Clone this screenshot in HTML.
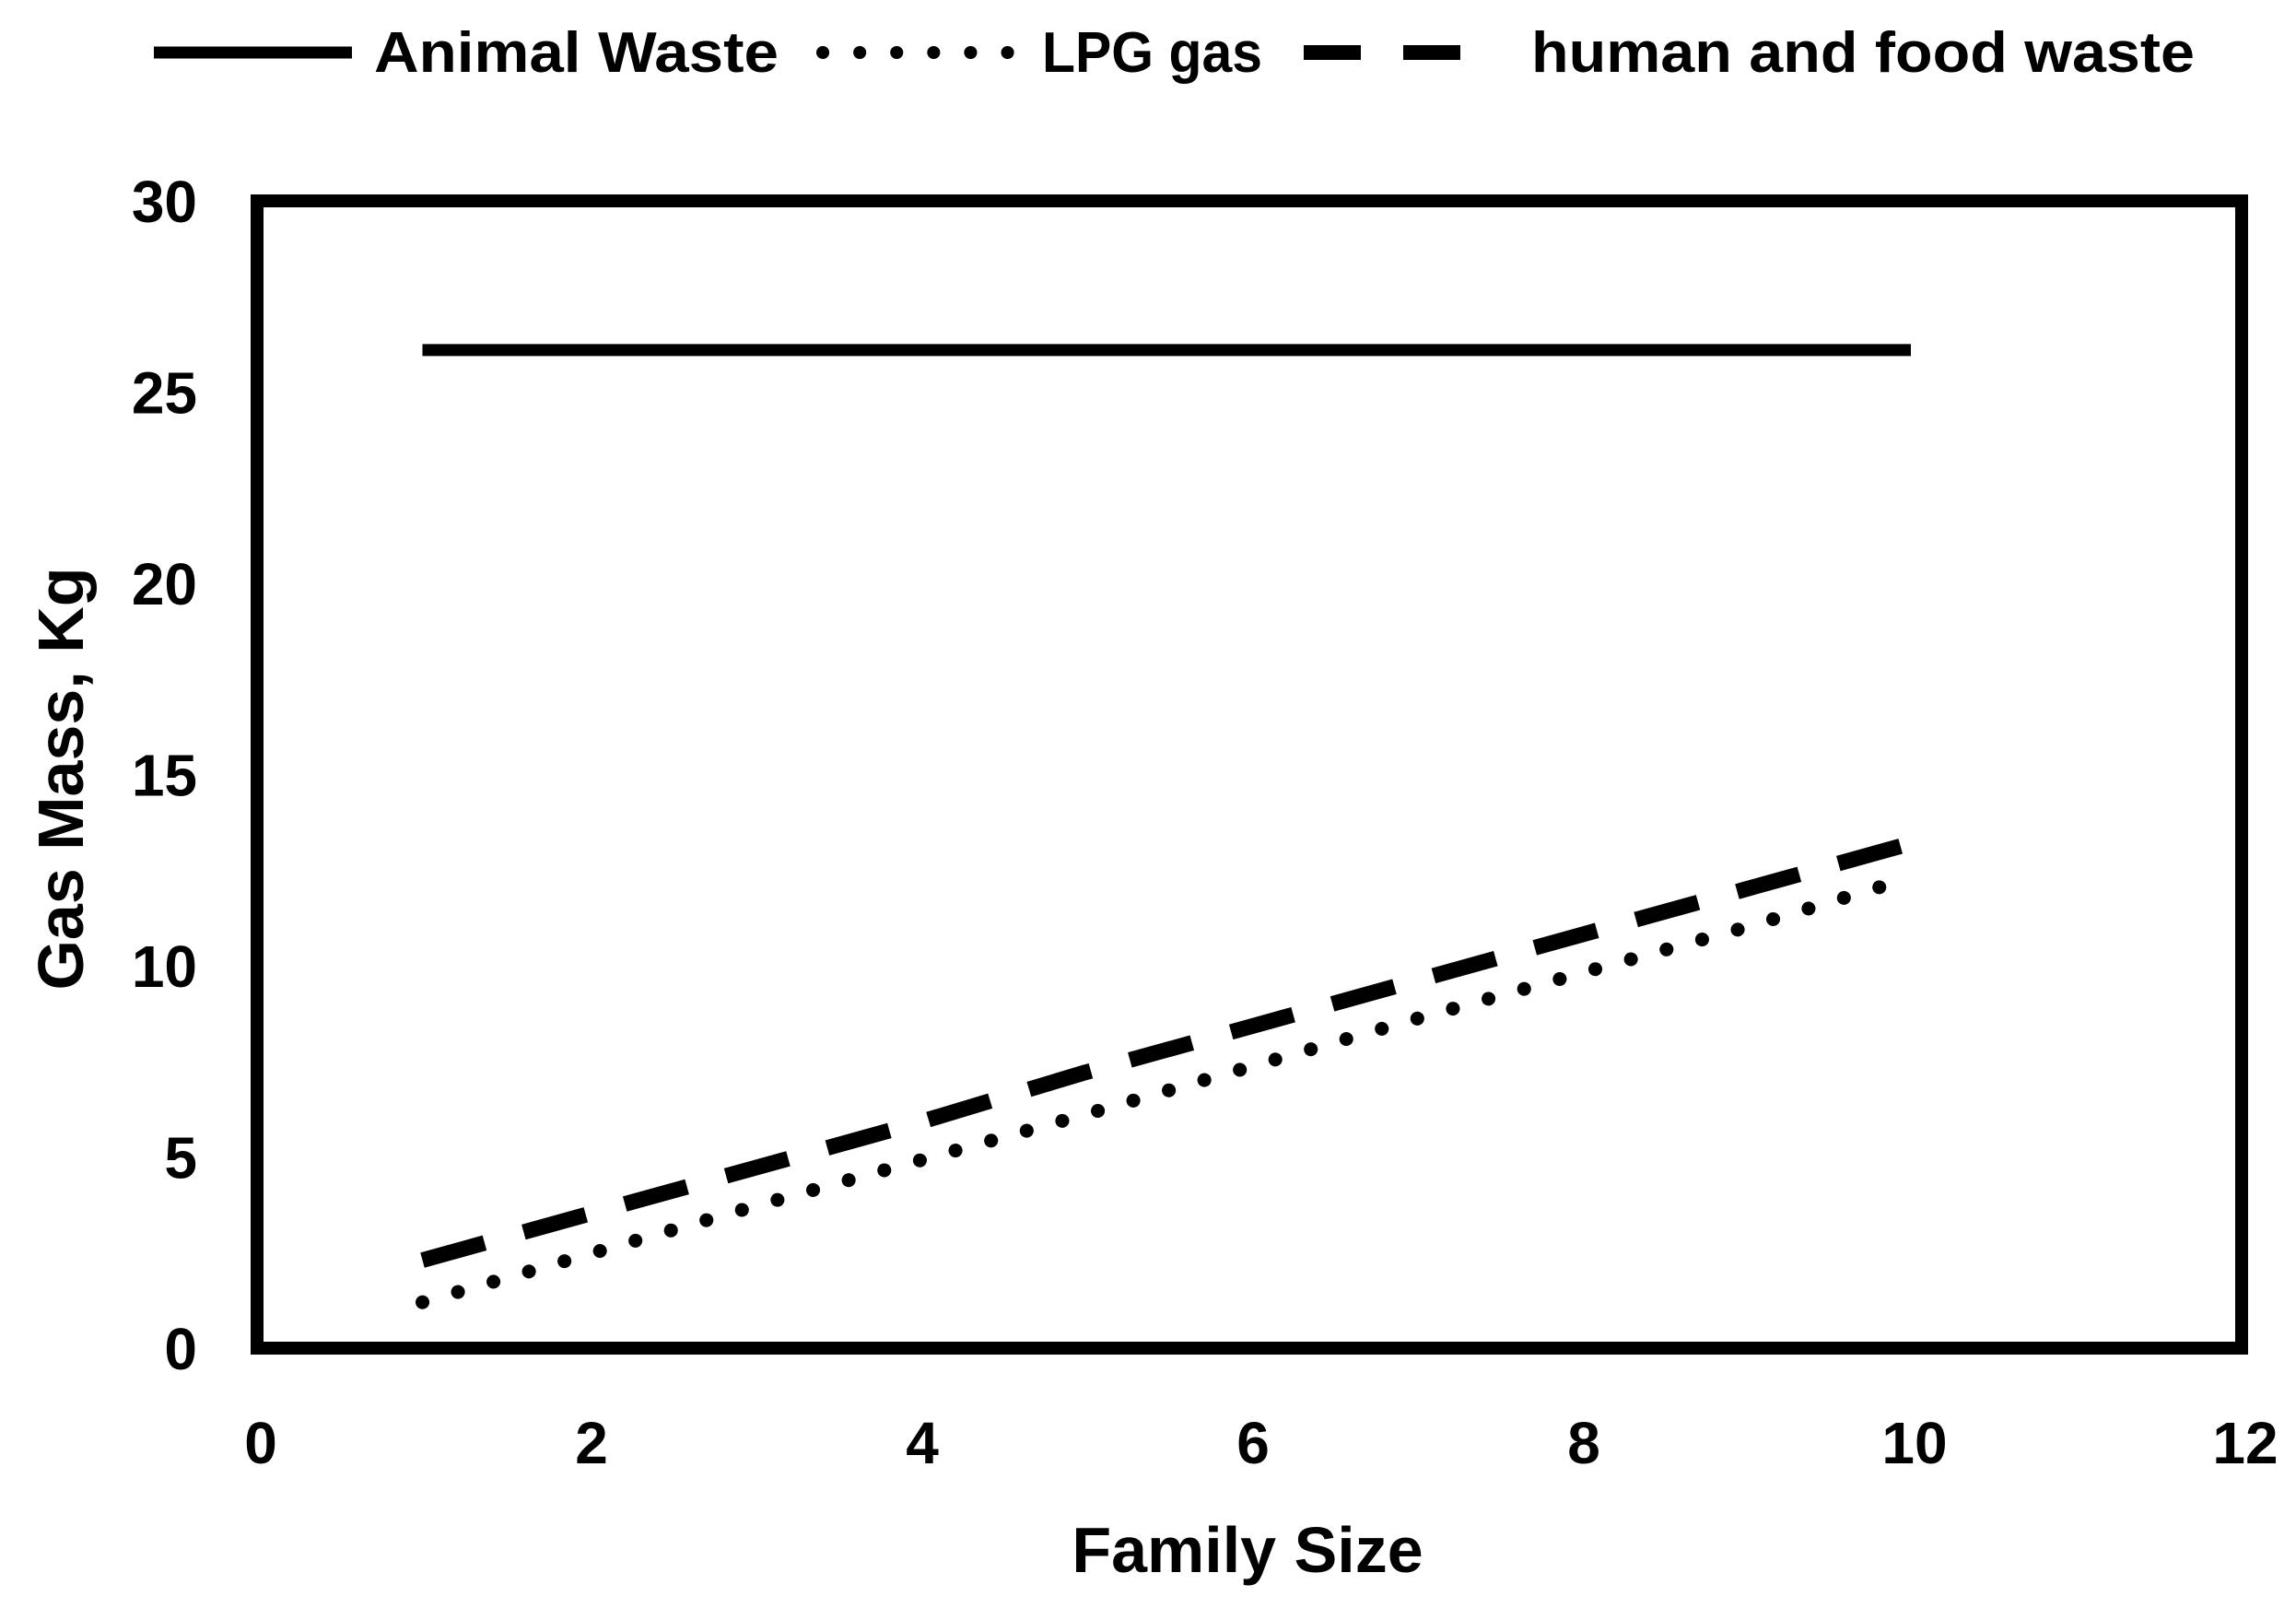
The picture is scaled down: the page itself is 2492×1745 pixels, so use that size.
<!DOCTYPE html>
<html><head><meta charset="utf-8"><style>
html,body{margin:0;padding:0;background:#fff;}
svg{display:block;font-family:"Liberation Sans",sans-serif;font-weight:bold;}
</style></head><body>
<svg id="chart" width="2492" height="1745" viewBox="0 0 2492 1745" xmlns="http://www.w3.org/2000/svg">
<g id="legend">
  <line x1="167" y1="57" x2="382" y2="57" stroke="#000" stroke-width="13"/>
  <text x="406" y="78" font-size="62" textLength="439" lengthAdjust="spacingAndGlyphs">Animal Waste</text>
  <line x1="893" y1="57" x2="1096" y2="57" stroke="#000" stroke-width="14" stroke-linecap="round" stroke-dasharray="0.1 40"/>
  <text x="1131" y="78" font-size="62" textLength="239" lengthAdjust="spacingAndGlyphs">LPG gas</text>
  <line x1="1415" y1="57" x2="1585" y2="57" stroke="#000" stroke-width="16" stroke-dasharray="62 46"/>
  <text x="1662" y="78" font-size="62" textLength="720" lengthAdjust="spacingAndGlyphs">human and food waste</text>
</g>
<g id="axes"></g>
<g id="series"></g>
<rect x="279" y="218" width="2154" height="1245" fill="none" stroke="#000" stroke-width="14"/>
<text x="1354" y="1706" font-size="70" text-anchor="middle">Family Size</text>
<text transform="translate(90,845) rotate(-90)" font-size="70" text-anchor="middle">Gas Mass, Kg</text>
</svg>
<script>
const familySize = [1,2,3,4,5,6,7,8,9,10];
const animalWaste = [26.1,26.1,26.1,26.1,26.1,26.1,26.1,26.1,26.1,26.1];
const lpgGas = [1.2,2.45,3.7,4.9,6.1,7.35,8.6,9.8,11.0,12.3];
const humanFoodWaste = [2.3,3.5,4.7,5.9,7.2,8.4,9.6,10.8,12.0,13.2];
const xTicks = [0,2,4,6,8,10,12];
const yTicks = [0,5,10,15,20,25,30];

const NS = "http://www.w3.org/2000/svg";
const X0 = 279, X1 = 2433, Y0 = 1463, Y1 = 218;
function xs(v){ return X0 + (v - 0) / 12 * (X1 - X0); }
function ys(v){ return Y0 - (v - 0) / 30 * (Y0 - Y1); }

const axes = document.getElementById('axes');
xTicks.forEach(t => {
  const el = document.createElementNS(NS, 'text');
  
  
  el.setAttribute('x', xs(t) + 4);
  el.setAttribute('y', 1588);
  el.setAttribute('font-size', '64');
  el.setAttribute('text-anchor', 'middle');
  el.textContent = t;
  axes.appendChild(el);
});
yTicks.forEach(t => {
  const el = document.createElementNS(NS, 'text');
  
  
  el.setAttribute('x', 214);
  el.setAttribute('y', ys(t) + 23);
  el.setAttribute('font-size', '64');
  el.setAttribute('text-anchor', 'end');
  el.textContent = t;
  axes.appendChild(el);
});

const series = document.getElementById('series');
function pts(vals){ return familySize.map((x,i) => xs(x) + ',' + ys(vals[i])).join(' '); }

const l1 = document.createElementNS(NS, 'polyline');


l1.setAttribute('points', pts(animalWaste));
l1.setAttribute('fill', 'none'); l1.setAttribute('stroke', '#000'); l1.setAttribute('stroke-width', '13');
series.appendChild(l1);

const l2 = document.createElementNS(NS, 'polyline');


l2.setAttribute('points', pts(lpgGas));
l2.setAttribute('fill', 'none'); l2.setAttribute('stroke', '#000'); l2.setAttribute('stroke-width', '15');
l2.setAttribute('stroke-linecap', 'round'); l2.setAttribute('stroke-dasharray', '0.1 40');
series.appendChild(l2);

const l3 = document.createElementNS(NS, 'polyline');


l3.setAttribute('points', pts(humanFoodWaste));
l3.setAttribute('fill', 'none'); l3.setAttribute('stroke', '#000'); l3.setAttribute('stroke-width', '17');
l3.setAttribute('stroke-dasharray', '70 44');
series.appendChild(l3);
</script>
</body></html>
